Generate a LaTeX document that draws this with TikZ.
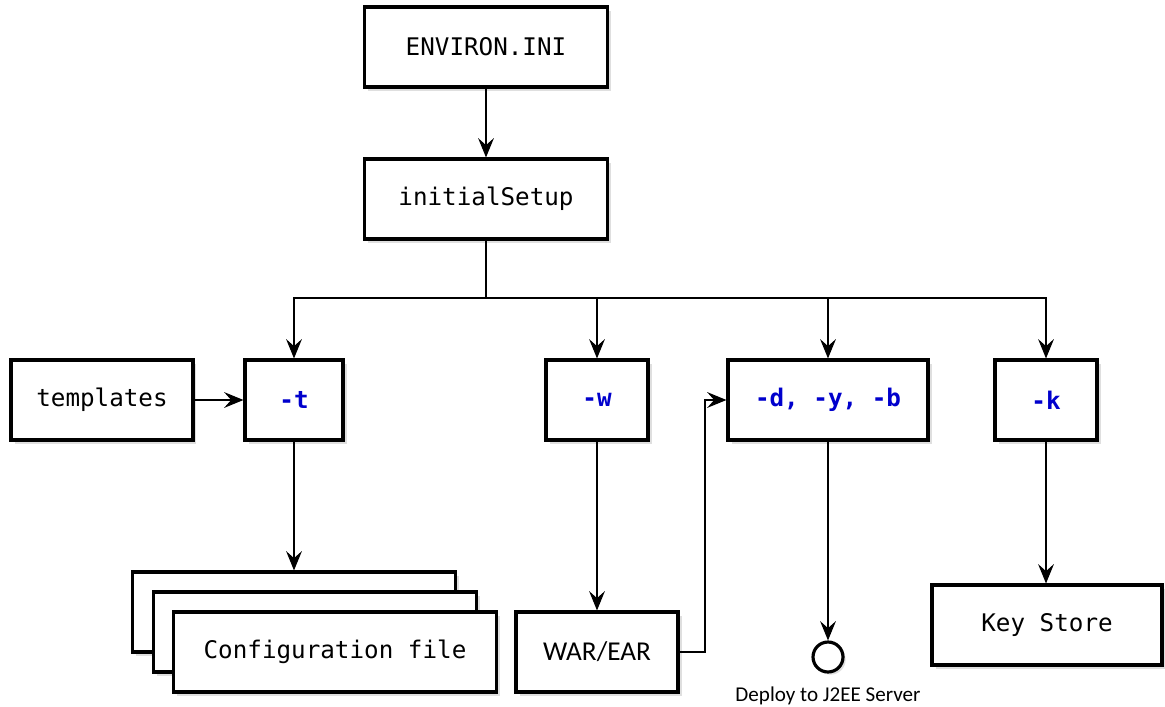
\documentclass[tikz,border=0pt]{standalone}
\usepackage{fontspec}
\setmonofont{DejaVu Sans Mono}
\newfontfamily\labelfont{Carlito}
\usetikzlibrary{arrows.meta,shadows}

\definecolor{optblue}{RGB}{0,0,205}

\tikzset{
    block/.style={draw, fill=white, line width=1.8pt, inner sep=0pt,
        minimum height=1.6cm,
        font=\ttfamily\fontsize{13.8}{16}\selectfont,
        drop shadow={shadow xshift=2pt, shadow yshift=-2pt, opacity=0.25, fill=gray}},
    opt/.style={text=optblue, font=\ttfamily\bfseries\fontsize{13.8}{16}\selectfont},
    arr/.style={-{Stealth[length=11pt, width=9pt, inset=4pt]}, line width=0.6pt},
}

\begin{document}
\begin{tikzpicture}[x=0.02cm, y=-0.02cm]
        %\draw[color=lightgray] (0, 0) grid[step=50] (1165, 706);
        \useasboundingbox (0, 0) rectangle (1165, 706);
        % top chain
        \node[block, minimum width=4.86cm] (env) at (486, 47) {ENVIRON.INI};
        \node[block, minimum width=4.86cm] (setup) at (486, 199) {initialSetup};
        % options row
        \node[block, minimum width=3.64cm] (tpl) at (102, 400) {templates};
        \node[block, opt, minimum width=1.96cm] (t) at (294, 400) {-t};
        \node[block, opt, minimum width=2.04cm] (w) at (597, 400) {-w};
        \node[block, opt, minimum width=4cm] (dyb) at (828, 400) {-d, -y, -b};
        \node[block, opt, minimum width=2.04cm] (k) at (1046, 400) {-k};
        % results
        \node[block, minimum width=6.46cm] (cfgA) at (294, 612) {};
        \node[block, minimum width=6.46cm] (cfgB) at (315, 632) {};
        \node[block, minimum width=6.46cm] (cfg) at (335, 652) {Configuration file};
        \node[block, font=\labelfont\fontsize{15.5}{18}\selectfont, minimum width=3.24cm] (war) at (597, 652) {WAR/EAR};
        \node[circle, draw, fill=white, line width=1.8pt, minimum size=0.6cm, inner sep=0pt,
            drop shadow={shadow xshift=1.5pt, shadow yshift=-1.5pt, opacity=0.25, fill=gray}] (srv) at (828, 657) {};
        \node[font=\labelfont\fontsize{12}{14}\selectfont, below=4pt] (srvlbl) at (srv.south) {Deploy to J2EE Server};
        \node[block, minimum width=4.6cm] (ks) at (1047, 625) {Key Store};
        % connectors
        \coordinate (bus) at (486, 298);
        \coordinate (back) at (705, 652);
        \draw[arr] (env) -- (setup);
        \draw[line width=0.6pt] (setup.south) -- (bus);
        \draw[arr] (bus) -| (t.north);
        \draw[arr] (bus) -| (w.north);
        \draw[arr] (bus) -| (dyb.north);
        \draw[arr] (bus) -| (k.north);
        \draw[arr] (tpl) -- (t);
        \draw[arr] (t) -- (cfgA);
        \draw[arr] (w) -- (war);
        \draw[arr] (war.east) -- (back) |- (dyb.west);
        \draw[arr] (dyb) -- (srv);
        \draw[arr] (k) -- (k |- ks.north);
\end{tikzpicture}
\end{document}
